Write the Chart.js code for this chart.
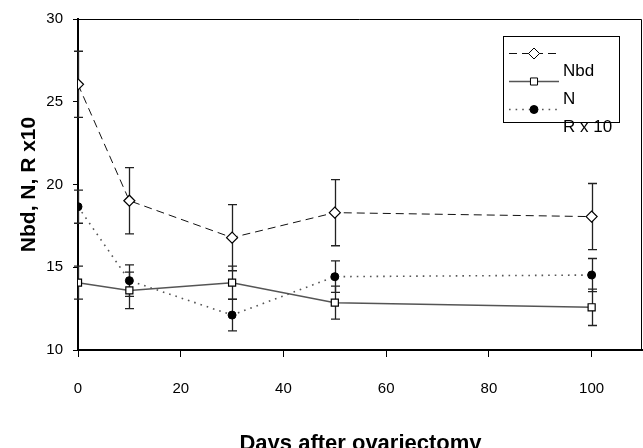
<!DOCTYPE html>
<html>
<head>
<meta charset="utf-8">
<script src="https://cdn.jsdelivr.net/npm/chart.js@4/dist/chart.umd.min.js"></script>
<style>
  html, body { margin: 0; padding: 0; background: #ffffff; }
  #wrap { width: 643px; height: 448px; position: relative; }
</style>
</head>
<body>
<div id="wrap"><canvas id="c"></canvas></div>
<script>
// ---- data ----
const days = [0, 10, 30, 50, 100];
const xTicks = [0, 20, 40, 60, 80, 100];
const yTicks = [10, 15, 20, 25, 30];

const seriesLabels = ['Nbd', 'N', 'R x 10'];
const nbd = [26.05, 19.02, 16.79, 18.30, 18.06];
const nbdErr = [2.0, 2.0, 2.0, 2.0, 2.0];
const nVals = [14.07, 13.60, 14.07, 12.86, 12.58];
const nErr = [1.0, 1.1, 1.0, 1.0, 1.1];
const rVals = [18.66, 14.19, 12.11, 14.43, 14.53];
const rErr = [1.0, 0.95, 0.95, 0.95, 1.0];

const axisTitleX = 'Days after ovariectomy';
const axisTitleY = 'Nbd, N, R x10';

const FONT = "'Liberation Sans', Arial, sans-serif";

function pts(vals) { return days.map((d, i) => ({ x: d, y: vals[i] })); }

const errorBars = {
  id: 'errorBars',
  beforeDatasetsDraw(chart) {
    const { ctx, scales: { x, y } } = chart;
    ctx.save();
    ctx.strokeStyle = '#222';
    ctx.lineWidth = 1.3;
    chart.data.datasets.forEach(ds => {
      ds.data.forEach((p, i) => {
        const e = ds.errors[i];
        const px = Math.round(x.getPixelForValue(p.x)) + 0.5;
        const t = y.getPixelForValue(p.y + e);
        const b = y.getPixelForValue(p.y - e);
        ctx.beginPath();
        ctx.moveTo(px, t); ctx.lineTo(px, b);
        ctx.moveTo(px - 4.5, t); ctx.lineTo(px + 4.5, t);
        ctx.moveTo(px - 4.5, b); ctx.lineTo(px + 4.5, b);
        ctx.stroke();
      });
    });
    ctx.restore();
  }
};

const frame = {
  id: 'frame',
  beforeDatasetsDraw(chart) {
    const { ctx, chartArea: a } = chart;
    ctx.save();
    ctx.strokeStyle = '#000';
    ctx.lineWidth = 1;
    ctx.beginPath();
    ctx.moveTo(a.left, a.top + 0.5);
    ctx.lineTo(a.right - 1.5, a.top + 0.5);
    ctx.lineTo(a.right - 1.5, a.bottom);
    ctx.stroke();
    ctx.restore();
  }
};

const boxLegend = {
  id: 'boxLegend',
  afterDraw(chart) {
    const { ctx, chartArea: a } = chart;
    const left = a.right - 140, top = a.top + 17, w = 116, h = 86;
    ctx.save();
    ctx.fillStyle = '#fff';
    ctx.fillRect(left, top, w, h);
    ctx.strokeStyle = '#000';
    ctx.lineWidth = 1;
    ctx.strokeRect(left + 0.5, top + 0.5, w, h);
    const rows = [17, 45, 73];
    chart.data.datasets.forEach((ds, i) => {
      const ry = top + rows[i] + 0.5;
      ctx.save();
      ctx.strokeStyle = ds.borderColor;
      ctx.lineWidth = ds.borderWidth;
      ctx.setLineDash(ds.borderDash || []);
      ctx.beginPath();
      ctx.moveTo(left + 6, ry); ctx.lineTo(left + 56, ry);
      ctx.stroke();
      ctx.restore();
      ctx.save();
      ctx.fillStyle = ds.pointBackgroundColor;
      ctx.strokeStyle = ds.pointBorderColor;
      ctx.lineWidth = 1;
      Chart.helpers.drawPoint(ctx, { pointStyle: ds.pointStyle, radius: ds.pointRadius, rotation: 0, borderWidth: 1 }, left + 31, ry);
      ctx.restore();
      ctx.fillStyle = '#000';
      ctx.font = '17px ' + FONT;
      ctx.textBaseline = 'middle';
      ctx.textAlign = 'left';
      ctx.fillText(ds.label, left + 60, ry + 18);
    });
    ctx.restore();
  }
};

const chart = new Chart(document.getElementById('c'), {
  type: 'line',
  data: {
    datasets: [
      {
        label: seriesLabels[0], data: pts(nbd), errors: nbdErr,
        borderColor: '#111', borderWidth: 1, borderDash: [8, 5],
        pointStyle: 'rectRot', pointRadius: 5.5,
        pointBackgroundColor: '#fff', pointBorderColor: '#000', pointBorderWidth: 1.2
      },
      {
        label: seriesLabels[1], data: pts(nVals), errors: nErr,
        borderColor: '#555', borderWidth: 1.5, borderDash: [],
        pointStyle: 'rect', pointRadius: 5,
        pointBackgroundColor: '#fff', pointBorderColor: '#000', pointBorderWidth: 1.2
      },
      {
        label: seriesLabels[2], data: pts(rVals), errors: rErr,
        borderColor: '#555', borderWidth: 1.6, borderDash: [1.6, 5],
        pointStyle: 'circle', pointRadius: 4,
        pointBackgroundColor: '#000', pointBorderColor: '#000', pointBorderWidth: 1
      }
    ]
  },
  options: {
    responsive: true,
    maintainAspectRatio: false,
    animation: false,
    layout: { autoPadding: false, padding: { top: 19, right: 0, left: 0, bottom: 0 } },
    plugins: { legend: { display: false }, tooltip: { enabled: false } },
    elements: { line: { tension: 0 } },
    scales: {
      x: {
        type: 'linear', min: 0, max: 110,
        afterBuildTicks: s => { s.ticks = xTicks.map(v => ({ value: v })); },
        afterFit: s => { s.height = 98; s.paddingRight = 0; s.paddingLeft = 0; },
        grid: { display: true, drawOnChartArea: false, drawTicks: true, tickLength: 7, color: '#000', tickWidth: 1 },
        border: { display: true, color: '#000', width: 2 },
        ticks: { color: '#000', font: { family: FONT, size: 15 }, padding: 23, maxRotation: 0 },
        title: { display: true, text: axisTitleX, color: '#000',
                 font: { family: FONT, size: 22, weight: 'bold' }, padding: { top: 0, bottom: -9 } }
      },
      y: {
        type: 'linear', min: 10, max: 30,
        afterBuildTicks: s => { s.ticks = yTicks.map(v => ({ value: v })); },
        afterFit: s => { s.width = 78; },
        grid: { display: true, drawOnChartArea: false, drawTicks: true, tickLength: 5, color: '#000', tickWidth: 1 },
        border: { display: true, color: '#000', width: 2 },
        ticks: { color: '#000', font: { family: FONT, size: 15 }, padding: 10 },
        title: { display: true, text: axisTitleY, color: '#000',
                 font: { family: FONT, size: 21, weight: 'bold' }, padding: { top: 17, bottom: 0 } }
      }
    }
  },
  plugins: [frame, errorBars, boxLegend]
});
</script>
</body>
</html>
